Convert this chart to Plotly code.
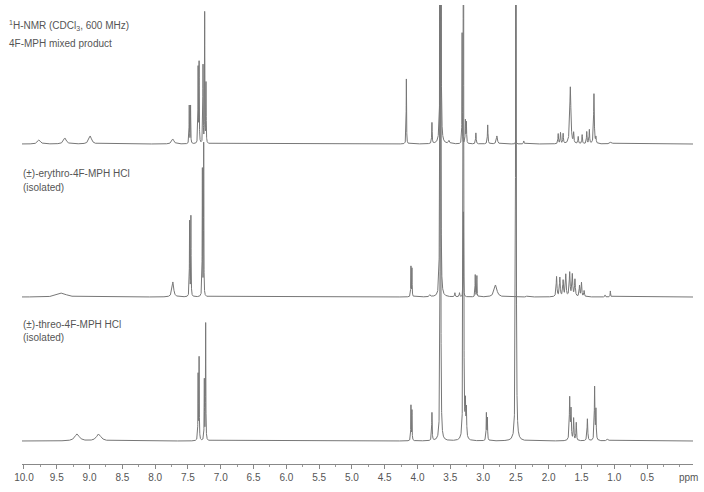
import numpy as np
import plotly.graph_objects as go

# peak lists: (ppm, height, line width) per trace
# heights are in "pixels" above each trace's own baseline
mixed_ppm = [9.77, 9.375, 8.99, 7.73, 7.48, 7.46, 7.345, 7.33, 7.27, 7.245, 7.225,
             4.17, 3.78, 3.65, 3.635, 3.52, 3.32, 3.27, 3.255, 3.11, 2.93, 2.79, 2.50, 2.38,
             1.855, 1.82, 1.78, 1.67, 1.62, 1.55, 1.49, 1.42, 1.38, 1.31, 1.28, 1.05]
mixed_h = [4, 6, 8, 5, 38, 38, 75, 80, 78, 130, 60,
           65, 21, 1500, 17, 3, 111, 23, 21, 11, 19, 8, 4, 3,
           10, 11, 10, 57, 10, 7, 9, 12, 14, 50, 6, 2]
mixed_w = [0.05, 0.05, 0.05, 0.04, 0.006, 0.006, 0.006, 0.006, 0.006, 0.005, 0.006,
           0.006, 0.008, 0.005, 0.008, 0.02, 0.005, 0.008, 0.008, 0.01, 0.01, 0.02, 0.01, 0.01,
           0.01, 0.01, 0.01, 0.02, 0.01, 0.01, 0.01, 0.01, 0.01, 0.012, 0.01, 0.04]

erythro_ppm = [9.42, 7.73, 7.475, 7.455, 7.28, 7.26, 4.10, 4.085, 3.81, 3.67, 3.65, 3.43, 3.36,
               3.30, 3.12, 3.095, 2.81, 2.34, 1.88, 1.83, 1.78, 1.74, 1.68, 1.64, 1.60,
               1.53, 1.50, 1.46, 1.14, 1.06]
erythro_h = [4, 15, 75, 80, 127, 152, 30, 28, 2, 16, 1500, 4, 4,
             85, 22, 21, 12, 1, 20, 19, 16, 22, 24, 22, 17,
             11, 14, 6, 2, 6]
erythro_w = [0.15, 0.03, 0.006, 0.006, 0.006, 0.005, 0.006, 0.006, 0.02, 0.01, 0.005, 0.01, 0.01,
             0.005, 0.006, 0.006, 0.05, 0.01, 0.014, 0.014, 0.014, 0.014, 0.015, 0.015, 0.014,
             0.012, 0.012, 0.012, 0.01, 0.008]

threo_ppm = [9.19, 8.86, 7.345, 7.33, 7.25, 7.23, 4.10, 4.085, 3.78, 3.65, 3.30, 3.27, 3.255,
             2.95, 2.935, 2.50, 1.68, 1.66, 1.62, 1.58, 1.41, 1.30, 1.28, 1.10]
threo_h = [7, 7, 65, 82, 60, 117, 35, 30, 28, 1500, 1500, 32, 28,
           27, 22, 1500, 42, 30, 22, 18, 22, 53, 30, 2]
threo_w = [0.08, 0.08, 0.006, 0.006, 0.006, 0.006, 0.006, 0.006, 0.008, 0.005, 0.005, 0.01, 0.01,
           0.008, 0.008, 0.006, 0.012, 0.012, 0.01, 0.01, 0.012, 0.01, 0.01, 0.03]

offsets = [297, 144, 0]   # mixed, erythro, threo

tick_vals = [10.0, 9.5, 9.0, 8.5, 8.0, 7.5, 7.0, 6.5, 6.0, 5.5, 5.0, 4.5, 4.0, 3.5, 3.0, 2.5, 2.0, 1.5, 1.0, 0.5]

x = np.arange(-0.2, 10.05, 0.0005)


def spectrum(ppm, h, w):
    y = np.zeros_like(x)
    for p, a, fw in zip(ppm, h, w):
        g = fw / 2
        y += a * g**2 / ((x - p)**2 + g**2)
    return y


fig = go.Figure()
for (ppm, h, w), off in zip([(mixed_ppm, mixed_h, mixed_w),
                             (erythro_ppm, erythro_h, erythro_w),
                             (threo_ppm, threo_h, threo_w)], offsets):
    fig.add_trace(go.Scatter(x=x, y=spectrum(ppm, h, w) + off, mode="lines",
                             line=dict(color="#777777", width=1),
                             hoverinfo="skip", showlegend=False))

# plot area in pixels: x 22..693, y 5..464
def px(xp):
    return (xp - 22) / 671


def py(yp):
    return (464 - yp) / 459


labels = [
    (7, 25, "<sup>1</sup>H-NMR (CDCl<sub>3</sub>, 600 MHz)"),
    (7, 43, "4F-MPH mixed product"),
    (21, 174, "(±)-erythro-4F-MPH HCl"),
    (21, 187, "(isolated)"),
    (21, 324, "(±)-threo-4F-MPH HCl"),
    (21, 337, "(isolated)"),
    (677, 477, "ppm"),
]
for xp, yp, t in labels:
    fig.add_annotation(x=px(xp), y=py(yp), xref="paper", yref="paper", text=t,
                       showarrow=False, xanchor="left", yanchor="middle",
                       font=dict(family="Liberation Sans, Arial", size=10, color="#555"))

fig.update_layout(
    width=704, height=492,
    margin=dict(l=22, r=11, t=5, b=28),
    plot_bgcolor="white", paper_bgcolor="white",
    xaxis=dict(range=[10.03, -0.2], showgrid=False, zeroline=False,
               showline=True, linecolor="#888", linewidth=1,
               ticks="outside", ticklen=4, tickcolor="#888",
               tickmode="array", tickvals=tick_vals, tickformat=".1f",
               tickfont=dict(family="Liberation Sans, Arial", size=10, color="#555"),
               minor=dict(ticks="outside", ticklen=2, tickcolor="#999", dtick=0.25, tick0=0)),
    yaxis=dict(range=[-23, 436], visible=False),
)
fig.write_html("out.html", config={"displayModeBar": False},
               post_script="document.body.style.margin='0';")
